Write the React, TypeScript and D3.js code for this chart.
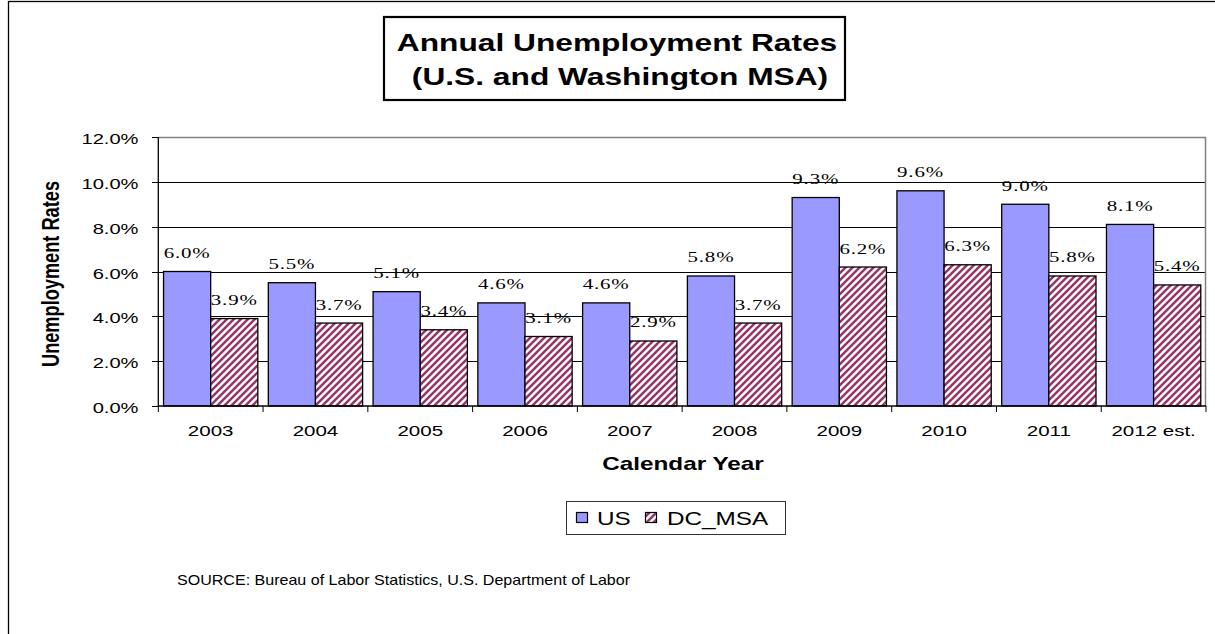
import React from "react";
import * as d3 from "d3";

const years = ["2003", "2004", "2005", "2006", "2007", "2008", "2009", "2010", "2011", "2012 est."];
const usRates = [6.0, 5.5, 5.1, 4.6, 4.6, 5.8, 9.3, 9.6, 9.0, 8.1];
const dcRates = [3.9, 3.7, 3.4, 3.1, 2.9, 3.7, 6.2, 6.3, 5.8, 5.4];
const yTicks = [0, 2, 4, 6, 8, 10, 12];
const seriesNames = ["US", "DC_MSA"];

const SX = 1.35;
const ARIAL = "Arial, 'Liberation Sans', sans-serif";
const TIMES = "'Times New Roman', 'Liberation Serif', serif";

const W = 1215;
const H = 634;
const left = 158.3;
const right = 1206;
const top = 137;
const bottom = 406;

type TProps = {
  x: number;
  y: number;
  children: React.ReactNode;
  anchor?: string;
  size: number;
  family?: string;
  weight?: string;
  rotate?: number;
  ls?: number;
};

function T({ x, y, children, anchor = "middle", size, family = ARIAL, weight = "normal", rotate = 0, ls = 0 }: TProps) {
  return (
    <text
      transform={`translate(${x},${y}) scale(${SX},1)${rotate ? ` rotate(${rotate})` : ""}`}
      textAnchor={anchor}
      fontSize={size}
      fontFamily={family}
      fontWeight={weight}
      letterSpacing={ls}
      fill="#000"
    >
      {children}
    </text>
  );
}

export default function App() {
  const x = d3.scaleBand<string>().domain(years).range([left, right]).paddingInner(0.1).paddingOuter(0.05);
  const xs = d3.scaleBand<string>().domain(seriesNames).range([0, x.bandwidth()]);
  const y = d3.scaleLinear().domain([0, 12]).range([bottom, top]);
  const step = x.step();
  const boundaries = d3.range(years.length + 1).map((i) => left + i * step);
  const series = [
    { name: "US", values: usRates, fill: "#9999FF" },
    { name: "DC_MSA", values: dcRates, fill: "url(#hatch)" },
  ];
  const fmt = (v: number) => v.toFixed(1) + "%";

  return (
    <svg width={W} height={H} style={{ position: "absolute", left: 0, top: 0, background: "#fff" }}>
      <defs>
        <pattern id="hatch" patternUnits="userSpaceOnUse" width={7} height={7}>
          <rect width={7} height={7} fill="#fff" />
          <path d="M-1,1 L1,-1 M0,7 L7,0 M6,8 L8,6" stroke="#993366" strokeWidth={2.5} />
        </pattern>
      </defs>
      <rect x={0} y={0} width={W} height={H} fill="#fff" />
      {/* outer border */}
      <rect x={8.5} y={1.5} width={1400} height={800} fill="none" stroke="#000" strokeWidth={1.3} />

      {/* title */}
      <rect x={384} y={17} width={461} height={83} fill="#fff" stroke="#000" strokeWidth={2.2} />
      <T x={617} y={51} size={23.5} weight="bold">Annual Unemployment Rates</T>
      <T x={620} y={84.5} size={23.5} weight="bold">(U.S. and Washington MSA)</T>

      {/* value labels (behind gridlines and bars) */}
      {series.map((s) =>
        s.values.map((v, i) => (
          <T
            key={s.name + i}
            x={(x(years[i]) ?? 0) + (xs(s.name) ?? 0) + xs.bandwidth() / 2}
            y={y(v) - 13.5}
            size={15.5}
            family={TIMES}
            ls={0.6}
          >
            {fmt(v)}
          </T>
        ))
      )}

      {/* gridlines */}
      {yTicks.filter((t) => t > 0 && t < 12).map((t) => (
        <line key={t} x1={left} x2={right} y1={Math.round(y(t)) + 0.5} y2={Math.round(y(t)) + 0.5} stroke="#000" strokeWidth={1} />
      ))}
      {/* plot border top/right */}
      <path d={`M${left},${top + 0.5} H${right - 0.5} V${bottom}`} fill="none" stroke="#808080" strokeWidth={1.5} />

      {/* bars */}
      {series.map((s) =>
        s.values.map((v, i) => (
          <rect
            key={"b" + s.name + i}
            x={(x(years[i]) ?? 0) + (xs(s.name) ?? 0)}
            y={y(v)}
            width={xs.bandwidth()}
            height={y(0) - y(v)}
            fill={s.fill}
            stroke="#000"
            strokeWidth={1.3}
          />
        ))
      )}

      {/* axes */}
      <line x1={left} x2={left} y1={top} y2={bottom} stroke="#000" strokeWidth={1.3} />
      <line x1={left} x2={right} y1={bottom} y2={bottom} stroke="#000" strokeWidth={1.3} />
      {yTicks.map((t) => (
        <g key={"yt" + t}>
          <line x1={152} x2={left} y1={Math.round(y(t)) + 0.5} y2={Math.round(y(t)) + 0.5} stroke="#000" strokeWidth={1} />
          <T x={138.5} y={y(t) + 7} size={14.9} anchor="end">{fmt(t)}</T>
        </g>
      ))}
      {boundaries.map((b, i) => (
        <line key={"xt" + i} x1={b} x2={b} y1={bottom} y2={bottom + 6} stroke="#000" strokeWidth={1} />
      ))}
      {years.map((yr) => (
        <T key={"xl" + yr} x={(x(yr) ?? 0) + x.bandwidth() / 2} y={436} size={15.2}>
          {yr}
        </T>
      ))}

      {/* axis titles */}
      <T x={683} y={469.5} size={18} weight="bold">Calendar Year</T>
      <T x={59} y={274} size={18.2} weight="bold" rotate={-90}>Unemployment Rates</T>

      {/* legend */}
      <rect x={566.5} y={501.5} width={219} height={33} fill="#fff" stroke="#333" strokeWidth={1} />
      <rect x={576.5} y={512.5} width={11} height={10} fill="#9999FF" stroke="#000" strokeWidth={1.2} />
      <T x={597} y={524.5} size={18} anchor="start">US</T>
      <rect x={645.5} y={512.5} width={11} height={10} fill="url(#hatch)" stroke="#000" strokeWidth={1.2} />
      <T x={667} y={524.5} size={18} anchor="start">DC_MSA</T>

      {/* source */}
      <text
        x={177}
        y={584.5}
        fontSize={14.5}
        fontFamily={ARIAL}
        textLength={453}
        lengthAdjust="spacingAndGlyphs"
        fill="#000"
      >
        SOURCE:  Bureau of Labor Statistics, U.S. Department of Labor
      </text>
    </svg>
  );
}
